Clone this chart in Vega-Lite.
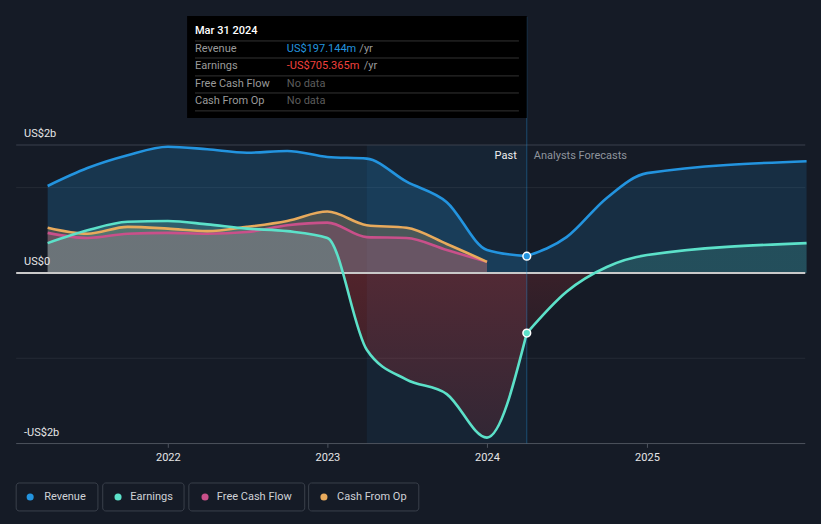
{
  "$schema": "https://vega.github.io/schema/vega-lite/v6.json",
  "width": 821,
  "height": 524,
  "autosize": {"type": "fit", "contains": "padding"},
  "padding": 0,
  "background": "#151b26",
  "config": {"view": {"stroke": null}, "font": "Roboto"},
  "datasets": {
    "revPast": [
      {"date": "2021-03-31", "v": 1.02}, {"date": "2021-06-30", "v": 1.23}, {"date": "2021-09-30", "v": 1.38},
      {"date": "2021-12-31", "v": 1.48}, {"date": "2022-03-31", "v": 1.45}, {"date": "2022-06-30", "v": 1.41},
      {"date": "2022-09-30", "v": 1.43}, {"date": "2022-12-31", "v": 1.36}, {"date": "2023-03-31", "v": 1.34},
      {"date": "2023-06-30", "v": 1.07}, {"date": "2023-09-30", "v": 0.83}, {"date": "2023-12-31", "v": 0.27},
      {"date": "2024-03-31", "v": 0.197}
    ],
    "revFc": [
      {"date": "2024-03-31", "v": 0.197}, {"date": "2024-06-30", "v": 0.42}, {"date": "2024-09-30", "v": 0.88},
      {"date": "2024-12-31", "v": 1.17}, {"date": "2025-12-31", "v": 1.31}
    ],
    "earnPast": [
      {"date": "2021-03-31", "v": 0.35}, {"date": "2021-06-30", "v": 0.5}, {"date": "2021-09-30", "v": 0.6},
      {"date": "2021-12-31", "v": 0.61}, {"date": "2022-03-31", "v": 0.57}, {"date": "2022-06-30", "v": 0.52},
      {"date": "2022-09-30", "v": 0.49}, {"date": "2022-12-31", "v": 0.41}, {"date": "2023-03-31", "v": -0.9},
      {"date": "2023-06-30", "v": -1.25}, {"date": "2023-09-30", "v": -1.42}, {"date": "2023-12-31", "v": -1.93},
      {"date": "2024-03-31", "v": -0.705}
    ],
    "earnFc": [
      {"date": "2024-03-31", "v": -0.705}, {"date": "2024-06-30", "v": -0.22}, {"date": "2024-09-30", "v": 0.07},
      {"date": "2024-12-31", "v": 0.21}, {"date": "2025-12-31", "v": 0.35}
    ],
    "fcf": [
      {"date": "2021-03-31", "v": 0.47}, {"date": "2021-06-30", "v": 0.41}, {"date": "2021-09-30", "v": 0.46},
      {"date": "2021-12-31", "v": 0.47}, {"date": "2022-03-31", "v": 0.46}, {"date": "2022-06-30", "v": 0.48},
      {"date": "2022-09-30", "v": 0.56}, {"date": "2022-12-31", "v": 0.59}, {"date": "2023-03-31", "v": 0.42},
      {"date": "2023-06-30", "v": 0.41}, {"date": "2023-09-30", "v": 0.27}, {"date": "2023-12-31", "v": 0.13}
    ],
    "cfo": [
      {"date": "2021-03-31", "v": 0.53}, {"date": "2021-06-30", "v": 0.46}, {"date": "2021-09-30", "v": 0.54},
      {"date": "2021-12-31", "v": 0.52}, {"date": "2022-03-31", "v": 0.49}, {"date": "2022-06-30", "v": 0.54},
      {"date": "2022-09-30", "v": 0.61}, {"date": "2022-12-31", "v": 0.72}, {"date": "2023-03-31", "v": 0.56},
      {"date": "2023-06-30", "v": 0.53}, {"date": "2023-09-30", "v": 0.34}, {"date": "2023-12-31", "v": 0.13}
    ],
    "gridFaint": [{"v": 1}, {"v": -1}],
    "ylabels": [{"v": 1.5, "label": "US$2b"}, {"v": 0, "label": "US$0"}, {"v": -2, "label": "-US$2b"}],
    "years": [
      {"date": "2022-01-01", "label": "2022"}, {"date": "2023-01-01", "label": "2023"},
      {"date": "2024-01-01", "label": "2024"}, {"date": "2025-01-01", "label": "2025"}
    ],
    "marker": [
      {"series": "Revenue", "date": "2024-03-31", "v": 0.197},
      {"series": "Earnings", "date": "2024-03-31", "v": -0.705}
    ],
    "tipRows": [
      {"label": "Revenue", "v": 2.626}, {"label": "Earnings", "v": 2.427},
      {"label": "Free Cash Flow", "v": 2.216}, {"label": "Cash From Op", "v": 2.016}
    ],
    "tipSeps": [{"v": 2.72}, {"v": 2.52}, {"v": 2.31}, {"v": 2.11}, {"v": 1.9}],
    "legend": [
      {"series": "Revenue", "start": "2021-01-18", "end": "2021-07-24", "dot": "2021-02-19", "text": "2021-03-23"},
      {"series": "Earnings", "start": "2021-08-04", "end": "2022-02-06", "dot": "2021-09-08", "text": "2021-10-06"},
      {"series": "Free Cash Flow", "start": "2022-02-17", "end": "2022-11-09", "dot": "2022-03-26", "text": "2022-04-22"},
      {"series": "Cash From Op", "start": "2022-11-18", "end": "2023-07-28", "dot": "2022-12-23", "text": "2023-01-22"}
    ]
  },
  "layer": [
    {
      "data": {"values": [{"start": "2023-03-31", "end": "2024-03-31"}]},
      "mark": {"type": "rect", "color": "#2394df", "opacity": 0.08},
      "encoding": {
        "x": {"field": "start", "type": "temporal", "axis": null, "scale": {"type": "utc", "domain": [{"year": 2020, "month": 12, "date": 12, "utc": true}, {"year": 2026, "month": 2, "date": 2, "utc": true}]}},
        "x2": {"field": "end"},
        "y": {"datum": 1.5, "type": "quantitative", "axis": null, "scale": {"domain": [-2.943, 3.2], "nice": false, "zero": false}},
        "y2": {"datum": -2}
      }
    },
    {
      "data": {"name": "gridFaint"},
      "mark": {"type": "rule", "color": "#ffffff", "opacity": 0.07, "strokeWidth": 1},
      "encoding": {
        "x": {"datum": {"year": 2021, "month": 1, "date": 18, "utc": true}, "type": "temporal"},
        "x2": {"datum": {"year": 2025, "month": 12, "date": 28, "utc": true}},
        "y": {"field": "v", "type": "quantitative"}
      }
    },
    {
      "data": {"values": [{"v": 1.5}]},
      "mark": {"type": "rule", "color": "#3b414c", "strokeWidth": 1},
      "encoding": {
        "x": {"datum": {"year": 2021, "month": 1, "date": 18, "utc": true}, "type": "temporal"},
        "x2": {"datum": {"year": 2025, "month": 12, "date": 28, "utc": true}},
        "y": {"field": "v", "type": "quantitative"}
      }
    },
    {
      "data": {"values": [{"v": -2}]},
      "mark": {"type": "rule", "color": "#4c525d", "strokeWidth": 1},
      "encoding": {
        "x": {"datum": {"year": 2021, "month": 1, "date": 18, "utc": true}, "type": "temporal"},
        "x2": {"datum": {"year": 2025, "month": 12, "date": 28, "utc": true}},
        "y": {"field": "v", "type": "quantitative"}
      }
    },
    {
      "data": {"name": "revPast"},
      "mark": {"type": "area", "interpolate": "monotone", "color": "#2394df", "opacity": 0.22},
      "encoding": {"x": {"field": "date", "type": "temporal"}, "y": {"field": "v", "type": "quantitative"}, "y2": {"datum": 0}}
    },
    {
      "data": {"name": "revFc"},
      "mark": {"type": "area", "interpolate": "monotone", "color": "#2394df", "opacity": 0.16},
      "encoding": {"x": {"field": "date", "type": "temporal"}, "y": {"field": "v", "type": "quantitative"}, "y2": {"datum": 0}}
    },
    {
      "data": {"name": "cfo"},
      "mark": {"type": "area", "interpolate": "monotone", "color": "#e8aa5c", "opacity": 0.24},
      "encoding": {"x": {"field": "date", "type": "temporal"}, "y": {"field": "v", "type": "quantitative"}, "y2": {"datum": 0}}
    },
    {
      "data": {"name": "fcf"},
      "mark": {"type": "area", "interpolate": "monotone", "color": "#c9508a", "opacity": 0.24},
      "encoding": {"x": {"field": "date", "type": "temporal"}, "y": {"field": "v", "type": "quantitative"}, "y2": {"datum": 0}}
    },
    {
      "data": {"name": "earnPast"},
      "mark": {
        "type": "area", "interpolate": "monotone", "opacity": 1,
        "color": {"gradient": "linear", "x1": 0, "y1": 0, "x2": 0, "y2": 1, "stops": [
          {"offset": 0, "color": "rgba(120,225,205,0.24)"},
          {"offset": 0.24, "color": "rgba(120,225,205,0.24)"},
          {"offset": 0.24, "color": "rgba(220,55,55,0.3)"},
          {"offset": 1, "color": "rgba(220,55,55,0.14)"}
        ]}
      },
      "encoding": {"x": {"field": "date", "type": "temporal"}, "y": {"field": "v", "type": "quantitative"}, "y2": {"datum": 0}}
    },
    {
      "data": {"name": "earnFc"},
      "mark": {
        "type": "area", "interpolate": "monotone", "opacity": 1,
        "color": {"gradient": "linear", "x1": 0, "y1": 0, "x2": 0, "y2": 1, "stops": [
          {"offset": 0, "color": "rgba(92,225,201,0.18)"},
          {"offset": 0.332, "color": "rgba(92,225,201,0.18)"},
          {"offset": 0.332, "color": "rgba(220,55,55,0.18)"},
          {"offset": 1, "color": "rgba(220,55,55,0.1)"}
        ]}
      },
      "encoding": {"x": {"field": "date", "type": "temporal"}, "y": {"field": "v", "type": "quantitative"}, "y2": {"datum": 0}}
    },
    {
      "data": {"values": [{"v": 0}]},
      "mark": {"type": "rule", "color": "#c9c9c9", "strokeWidth": 2},
      "encoding": {
        "x": {"datum": {"year": 2021, "month": 1, "date": 18, "utc": true}, "type": "temporal"},
        "x2": {"datum": {"year": 2025, "month": 12, "date": 28, "utc": true}},
        "y": {"field": "v", "type": "quantitative"}
      }
    },
    {
      "data": {"name": "revPast"},
      "mark": {"type": "line", "interpolate": "monotone", "color": "#2394df", "strokeWidth": 2.6},
      "encoding": {"x": {"field": "date", "type": "temporal"}, "y": {"field": "v", "type": "quantitative"}}
    },
    {
      "data": {"name": "revFc"},
      "mark": {"type": "line", "interpolate": "monotone", "color": "#2394df", "strokeWidth": 2.6},
      "encoding": {"x": {"field": "date", "type": "temporal"}, "y": {"field": "v", "type": "quantitative"}}
    },
    {
      "data": {"name": "fcf"},
      "mark": {"type": "line", "interpolate": "monotone", "color": "#c9508a", "strokeWidth": 2.6},
      "encoding": {"x": {"field": "date", "type": "temporal"}, "y": {"field": "v", "type": "quantitative"}}
    },
    {
      "data": {"name": "cfo"},
      "mark": {"type": "line", "interpolate": "monotone", "color": "#e8aa5c", "strokeWidth": 2.6},
      "encoding": {"x": {"field": "date", "type": "temporal"}, "y": {"field": "v", "type": "quantitative"}}
    },
    {
      "data": {"name": "earnPast"},
      "mark": {"type": "line", "interpolate": "monotone", "color": "#5ce1c9", "strokeWidth": 2.6},
      "encoding": {"x": {"field": "date", "type": "temporal"}, "y": {"field": "v", "type": "quantitative"}}
    },
    {
      "data": {"name": "earnFc"},
      "mark": {"type": "line", "interpolate": "monotone", "color": "#5ce1c9", "strokeWidth": 2.6},
      "encoding": {"x": {"field": "date", "type": "temporal"}, "y": {"field": "v", "type": "quantitative"}}
    },
    {
      "data": {"values": [{"date": "2024-03-31"}]},
      "mark": {"type": "rule", "color": "#2394df", "opacity": 0.4, "strokeWidth": 1},
      "encoding": {"x": {"field": "date", "type": "temporal"}, "y": {"datum": 3.0, "type": "quantitative"}, "y2": {"datum": -2}}
    },
    {
      "data": {"name": "marker"},
      "mark": {"type": "point", "filled": true, "size": 60, "opacity": 1, "stroke": "#ffffff", "strokeWidth": 1.5},
      "encoding": {
        "x": {"field": "date", "type": "temporal"},
        "y": {"field": "v", "type": "quantitative"},
        "fill": {"field": "series", "type": "nominal", "legend": null, "scale": {"domain": ["Revenue", "Earnings", "Free Cash Flow", "Cash From Op"], "range": ["#2394df", "#5ce1c9", "#c9508a", "#e8aa5c"]}}
      }
    },
    {
      "data": {"values": [{"date": "2024-03-08", "label": "Past"}]},
      "mark": {"type": "text", "align": "right", "baseline": "middle", "fontSize": 11, "color": "#f0f0f0"},
      "encoding": {"x": {"field": "date", "type": "temporal"}, "y": {"datum": 1.372, "type": "quantitative"}, "text": {"field": "label"}}
    },
    {
      "data": {"values": [{"date": "2024-04-16", "label": "Analysts Forecasts"}]},
      "mark": {"type": "text", "align": "left", "baseline": "middle", "fontSize": 11, "color": "#8f949c"},
      "encoding": {"x": {"field": "date", "type": "temporal"}, "y": {"datum": 1.372, "type": "quantitative"}, "text": {"field": "label"}}
    },
    {
      "data": {"name": "ylabels"},
      "mark": {"type": "text", "align": "left", "baseline": "bottom", "dy": -6, "fontSize": 11, "color": "#e6e6e6"},
      "encoding": {
        "x": {"datum": {"year": 2021, "month": 2, "date": 5, "utc": true}, "type": "temporal"},
        "y": {"field": "v", "type": "quantitative"},
        "text": {"field": "label"}
      }
    },
    {
      "data": {"name": "years"},
      "mark": {"type": "rule", "color": "#4c525d", "strokeWidth": 1},
      "encoding": {"x": {"field": "date", "type": "temporal"}, "y": {"datum": -2, "type": "quantitative"}, "y2": {"datum": -2.05}}
    },
    {
      "data": {"name": "years"},
      "mark": {"type": "text", "align": "center", "baseline": "top", "dy": 8, "fontSize": 11, "color": "#e6e6e6"},
      "encoding": {"x": {"field": "date", "type": "temporal"}, "y": {"datum": -2, "type": "quantitative"}, "text": {"field": "label"}}
    },
    {
      "data": {"values": [{"start": "2022-02-13", "end": "2024-03-31"}]},
      "mark": {"type": "rect", "color": "#000000", "opacity": 1},
      "encoding": {"x": {"field": "start", "type": "temporal"}, "x2": {"field": "end"}, "y": {"datum": 3.013, "type": "quantitative"}, "y2": {"datum": 1.817}}
    },
    {
      "data": {"name": "tipSeps"},
      "mark": {"type": "rule", "color": "#333333", "strokeWidth": 1},
      "encoding": {
        "x": {"datum": {"year": 2022, "month": 3, "date": 3, "utc": true}, "type": "temporal"},
        "x2": {"datum": {"year": 2024, "month": 3, "date": 13, "utc": true}},
        "y": {"field": "v", "type": "quantitative"}
      }
    },
    {
      "data": {"values": [{"label": "Mar 31 2024", "v": 2.837}]},
      "mark": {"type": "text", "align": "left", "baseline": "middle", "fontSize": 11, "fontWeight": 500, "color": "#ffffff"},
      "encoding": {
        "x": {"datum": {"year": 2022, "month": 3, "date": 3, "utc": true}, "type": "temporal"},
        "y": {"field": "v", "type": "quantitative"},
        "text": {"field": "label"}
      }
    },
    {
      "data": {"name": "tipRows"},
      "mark": {"type": "text", "align": "left", "baseline": "middle", "fontSize": 11, "color": "#9a9a9a"},
      "encoding": {
        "x": {"datum": {"year": 2022, "month": 3, "date": 3, "utc": true}, "type": "temporal"},
        "y": {"field": "v", "type": "quantitative"},
        "text": {"field": "label"}
      }
    },
    {
      "data": {"values": [{"label": "US$197.144m", "v": 2.626}]},
      "mark": {"type": "text", "align": "left", "baseline": "middle", "fontSize": 11, "color": "#2394df"},
      "encoding": {
        "x": {"datum": {"year": 2022, "month": 9, "date": 29, "utc": true}, "type": "temporal"},
        "y": {"field": "v", "type": "quantitative"},
        "text": {"field": "label"}
      }
    },
    {
      "data": {"values": [{"label": "-US$705.365m", "v": 2.427}]},
      "mark": {"type": "text", "align": "left", "baseline": "middle", "fontSize": 11, "color": "#f2413d"},
      "encoding": {
        "x": {"datum": {"year": 2022, "month": 9, "date": 29, "utc": true}, "type": "temporal"},
        "y": {"field": "v", "type": "quantitative"},
        "text": {"field": "label"}
      }
    },
    {
      "data": {"values": [{"label": "/yr", "v": 2.626}]},
      "mark": {"type": "text", "align": "left", "baseline": "middle", "fontSize": 11, "color": "#9a9a9a"},
      "encoding": {
        "x": {"datum": {"year": 2023, "month": 3, "date": 14, "utc": true}, "type": "temporal"},
        "y": {"field": "v", "type": "quantitative"},
        "text": {"field": "label"}
      }
    },
    {
      "data": {"values": [{"label": "/yr", "v": 2.427}]},
      "mark": {"type": "text", "align": "left", "baseline": "middle", "fontSize": 11, "color": "#9a9a9a"},
      "encoding": {
        "x": {"datum": {"year": 2023, "month": 3, "date": 24, "utc": true}, "type": "temporal"},
        "y": {"field": "v", "type": "quantitative"},
        "text": {"field": "label"}
      }
    },
    {
      "data": {"values": [{"label": "No data", "v": 2.216}, {"label": "No data", "v": 2.016}]},
      "mark": {"type": "text", "align": "left", "baseline": "middle", "fontSize": 11, "color": "#5c5c5c"},
      "encoding": {
        "x": {"datum": {"year": 2022, "month": 9, "date": 29, "utc": true}, "type": "temporal"},
        "y": {"field": "v", "type": "quantitative"},
        "text": {"field": "label"}
      }
    },
    {
      "data": {"name": "legend"},
      "mark": {"type": "rect", "fill": "#151b26", "stroke": "#3a404b", "strokeWidth": 1, "cornerRadius": 3},
      "encoding": {
        "x": {"field": "start", "type": "temporal"},
        "x2": {"field": "end"},
        "y": {"datum": -2.462, "type": "quantitative"},
        "y2": {"datum": -2.79}
      }
    },
    {
      "data": {"name": "legend"},
      "mark": {"type": "point", "shape": "circle", "filled": true, "size": 50, "opacity": 1},
      "encoding": {
        "x": {"field": "dot", "type": "temporal"},
        "y": {"datum": -2.626, "type": "quantitative"},
        "fill": {"field": "series", "type": "nominal", "legend": null}
      }
    },
    {
      "data": {"name": "legend"},
      "mark": {"type": "text", "align": "left", "baseline": "middle", "fontSize": 11, "color": "#cfd2d6"},
      "encoding": {
        "x": {"field": "text", "type": "temporal"},
        "y": {"datum": -2.626, "type": "quantitative"},
        "text": {"field": "series"}
      }
    }
  ]
}
